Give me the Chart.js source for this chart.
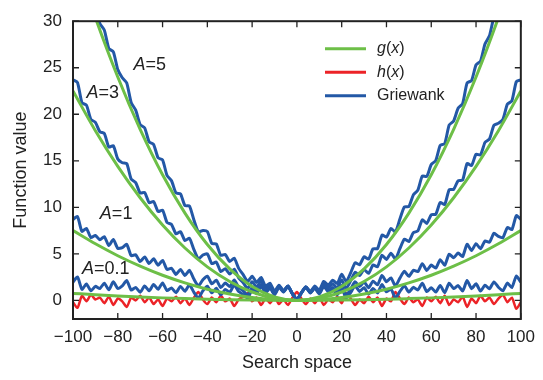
<!DOCTYPE html>
<html>
<head>
<meta charset="utf-8">
<script src="https://cdn.jsdelivr.net/npm/chart.js@4.4.0/dist/chart.umd.min.js"></script>
<style>
html, body { margin: 0; padding: 0; background: #fff; }
</style>
</head>
<body>
<canvas id="chart" width="543" height="380"></canvas>
<script>
var FONT = '"Liberation Sans", Arial, sans-serif';

var xTicks = [-100, -80, -60, -40, -20, 0, 20, 40, 60, 80, 100];
var yTicks = [0, 5, 10, 15, 20, 25, 30];

// smooth g(x) curves, read every 10 units
var xCoarse = [-100,-90,-80,-70,-60,-50,-40,-30,-20,-10,0,10,20,30,40,50,60,70,80,90,100];
var gA01 = [0.75,0.61,0.48,0.37,0.27,0.19,0.12,0.07,0.03,0.01,0,0.01,0.03,0.07,0.12,0.19,0.27,0.37,0.48,0.61,0.75];
var gA1  = [7.5,6.08,4.8,3.68,2.7,1.88,1.2,0.68,0.3,0.08,0,0.08,0.3,0.68,1.2,1.88,2.7,3.68,4.8,6.08,7.5];
var gA3  = [22.5,18.23,14.4,11.03,8.1,5.63,3.6,2.03,0.9,0.23,0,0.23,0.9,2.03,3.6,5.63,8.1,11.03,14.4,18.23,22.5];
var gA5  = [37.5,30.38,24,18.38,13.5,9.38,6,3.38,1.5,0.38,0,0.38,1.5,3.38,6,9.38,13.5,18.38,24,30.38,37.5];

// wiggly curves, read every 2 units
var xFine = [-100,-98,-96,-94,-92,-90,-88,-86,-84,-82,-80,-78,-76,-74,-72,-70,-68,-66,-64,-62,
  -60,-58,-56,-54,-52,-50,-48,-46,-44,-42,-40,-38,-36,-34,-32,-30,-28,-26,-24,-22,
  -20,-18,-16,-14,-12,-10,-8,-6,-4,-2,0,2,4,6,8,10,12,14,16,18,20,22,24,26,28,30,32,34,36,38,40,
  42,44,46,48,50,52,54,56,58,60,62,64,66,68,70,72,74,76,78,80,82,84,86,88,90,92,94,96,98,100];

var hx = [-0.2,-0.8,0.5,-0.1,0.6,0.1,0.3,-0.3,0.4,-0.5,
  0.2,-0.1,-0.7,0.3,0.0,0.5,-0.2,0.3,-0.4,0.1,
  -0.6,0.2,-0.1,0.4,-0.3,0.2,-0.5,0.3,0.9,0.1,
  -0.4,0.3,-0.2,0.5,-0.1,0.2,-0.6,0.1,0.4,0.8,
  -0.1,0.3,-0.5,0.2,-0.3,0.4,-0.4,0.1,-0.5,0.3,
  0.9,
  0.2,-0.4,0.2,-0.3,0.3,-0.5,0.1,-0.2,0.4,-0.3,
  0.8,0.2,-0.5,0.1,-0.3,0.4,-0.2,0.3,-0.6,0.2,
  -0.1,0.9,0.2,-0.4,0.3,-0.2,0.1,-0.6,0.3,-0.1,
  0.4,-0.3,0.5,-0.5,0.1,-0.2,0.4,-0.7,0.2,-0.3,
  0.5,-0.1,0.3,-0.4,0.2,0.6,-0.2,0.3,-0.9,-0.2];

var grA01 = [1.95,2.52,1.19,1.76,1.03,1.51,1.28,1.85,1.13,2.0,
  1.28,1.56,2.13,1.11,1.39,0.87,1.55,1.03,1.71,1.19,
  1.87,1.05,1.34,0.82,1.5,0.99,1.67,0.86,0.25,1.03,
  1.52,0.81,1.3,0.59,1.18,0.87,1.66,0.95,0.64,0.24,
  1.13,0.72,1.52,0.81,1.31,0.61,1.4,0.9,1.5,0.7,
  0.1,
  0.8,1.4,0.8,1.3,0.71,1.51,0.91,1.22,0.62,1.33,
  0.24,0.84,1.55,0.96,1.37,0.68,1.29,0.8,1.71,0.92,
  1.23,0.25,0.96,1.57,0.89,1.4,1.12,1.84,0.95,1.37,
  0.89,1.61,0.83,1.85,1.27,1.59,1.01,2.13,1.26,1.78,
  1.0,1.63,1.25,1.98,1.41,1.03,1.86,1.39,2.62,1.95];

var grA1 = [8.7,9.0,7.41,7.73,6.75,6.98,6.51,6.85,5.89,6.54,
  5.6,5.66,6.03,4.81,4.89,4.18,4.67,3.97,4.47,3.78,
  4.3,3.32,3.45,2.79,3.33,2.68,3.23,2.29,1.55,2.22,
  2.6,1.78,2.17,1.37,1.87,1.48,2.19,1.41,1.03,0.56,
  1.4,0.94,1.69,0.95,1.41,0.68,1.45,0.93,1.51,0.7,
  0.1,
  0.8,1.41,0.83,1.35,0.78,1.61,1.05,1.39,0.84,1.6,
  0.56,1.23,2.01,1.49,1.98,1.37,2.07,1.67,2.68,2.0,
  2.42,1.55,2.39,3.13,2.58,3.23,3.09,3.95,3.22,3.8,
  3.48,4.37,3.77,4.97,4.58,5.09,4.71,6.03,5.36,6.1,
  5.54,6.39,6.25,7.21,6.88,6.75,7.83,7.61,9.1,8.7];

var grA3 = [23.7,23.41,21.24,20.98,19.44,19.13,18.12,17.94,16.48,16.63,
  15.2,14.79,14.7,13.02,12.66,11.53,11.6,10.5,10.62,9.55,
  9.7,8.37,8.16,7.16,7.38,6.43,6.68,5.46,4.46,4.87,
  5.0,3.95,4.12,3.1,3.4,2.83,3.36,2.42,1.9,1.29,
  2.0,1.43,2.08,1.24,1.62,0.83,1.54,0.98,1.54,0.71,
  0.1,
  0.81,1.44,0.88,1.44,0.93,1.82,1.34,1.78,1.33,2.2,
  1.29,2.1,3.02,2.66,3.33,2.9,3.8,3.62,4.85,4.4,
  5.07,4.46,5.56,6.58,6.33,7.28,7.46,8.66,8.27,9.2,
  9.25,10.52,10.3,11.9,11.93,12.86,12.92,14.7,14.49,15.7,
  15.63,16.98,17.34,18.82,19.03,19.44,21.08,21.44,23.51,23.7];

var grA5 = [38.7,37.82,35.06,34.24,32.14,31.28,29.74,29.04,27.06,26.72,
  24.8,23.92,23.36,21.24,20.44,18.88,18.54,17.04,16.76,15.32,
  15.1,13.42,12.86,11.54,11.44,10.18,10.14,8.64,7.36,7.52,
  7.4,6.12,6.06,4.84,4.94,4.18,4.54,3.44,2.76,2.02,
  2.6,1.92,2.46,1.54,1.84,0.98,1.64,1.04,1.56,0.72,
  0.1,
  0.82,1.46,0.94,1.54,1.08,2.04,1.64,2.16,1.82,2.8,
  2.02,2.96,4.04,3.84,4.68,4.44,5.54,5.56,7.02,6.8,
  7.72,7.36,8.74,10.04,10.08,11.34,11.84,13.36,13.32,14.6,
  15.02,16.66,16.84,18.84,19.28,20.64,21.14,23.36,23.62,25.3,
  25.72,27.56,28.44,30.44,31.18,32.14,34.34,35.26,37.92,38.7];

// curve labels: [value of A, x, y]
var curveLabels = [['5', -73, 25.3], ['3', -94, 22.3], ['1', -88, 9.3], ['0.1', -96, 3.4]];

var GREEN = '#6dbf47';
var RED = '#ec2327';
var BLUE = '#2358a6';

function pts(xs, ys) {
  return xs.map(function (x, i) { return { x: x, y: ys[i] }; });
}

function greenSet(ys) {
  return { data: pts(xCoarse, ys), borderColor: GREEN, borderWidth: 3, pointRadius: 0,
    cubicInterpolationMode: 'monotone' };
}
function blueSet(ys) {
  return { data: pts(xFine, ys), borderColor: BLUE, borderWidth: 3, pointRadius: 0, tension: 0.2 };
}

function richText(ctx, parts, x, y, size) {
  parts.forEach(function (p) {
    ctx.font = (p[1] ? 'italic ' : '') + size + 'px ' + FONT;
    ctx.fillText(p[0], x, y);
    x += ctx.measureText(p[0]).width;
  });
}

var decorations = {
  id: 'decorations',
  afterDatasetsDraw: function (chart) {
    var ctx = chart.ctx, a = chart.chartArea;
    var xs = chart.scales.x, ys = chart.scales.y;
    ctx.save();
    ctx.strokeStyle = '#222';
    ctx.lineWidth = 1.3;
    ctx.beginPath();
    xTicks.forEach(function (v) {
      var px = xs.getPixelForValue(v);
      ctx.moveTo(px, a.bottom); ctx.lineTo(px, a.bottom - 6);
      ctx.moveTo(px, a.top); ctx.lineTo(px, a.top + 6);
    });
    yTicks.forEach(function (v) {
      var py = ys.getPixelForValue(v);
      ctx.moveTo(a.left, py); ctx.lineTo(a.left + 6, py);
      ctx.moveTo(a.right, py); ctx.lineTo(a.right - 6, py);
    });
    ctx.stroke();
    ctx.lineWidth = 2;
    ctx.strokeRect(a.left, a.top, a.right - a.left, a.bottom - a.top);

    // curve labels
    ctx.fillStyle = '#222';
    ctx.textBaseline = 'middle';
    ctx.textAlign = 'left';
    curveLabels.forEach(function (c) {
      richText(ctx, [['A', true], ['=' + c[0], false]],
        xs.getPixelForValue(c[1]), ys.getPixelForValue(c[2]), 18);
    });

    // legend
    var items = [
      [GREEN, [['g', true], ['(', false], ['x', true], [')', false]]],
      [RED, [['h', true], ['(', false], ['x', true], [')', false]]],
      [BLUE, [['Griewank', false]]]
    ];
    var lx = a.left + 252, ly = a.top + 27.5;
    items.forEach(function (it, i) {
      var y = ly + i * 23.5;
      ctx.strokeStyle = it[0];
      ctx.lineWidth = 3;
      ctx.beginPath();
      ctx.moveTo(lx, y); ctx.lineTo(lx + 41, y);
      ctx.stroke();
      ctx.fillStyle = '#222';
      richText(ctx, it[1], lx + 52, y, 16);
    });
    ctx.restore();
  }
};

new Chart(document.getElementById('chart'), {
  type: 'line',
  data: {
    datasets: [
      greenSet(gA5), greenSet(gA3), greenSet(gA1), greenSet(gA01),
      blueSet(grA5), blueSet(grA3), blueSet(grA1), blueSet(grA01),
      { data: pts(xFine, hx), borderColor: RED, borderWidth: 2.5, pointRadius: 0, tension: 0.2 }
    ]
  },
  options: {
    responsive: false,
    animation: false,
    layout: { padding: { left: 0, right: 16, top: 17, bottom: 0 } },
    plugins: { legend: { display: false }, tooltip: { enabled: false } },
    scales: {
      x: {
        type: 'linear', min: -100, max: 100,
        grid: { display: false, drawTicks: false },
        border: { display: false },
        afterBuildTicks: function (s) { s.ticks = xTicks.map(function (v) { return { value: v }; }); },
        afterFit: function (s) { s.height = 61; },
        ticks: {
          color: '#222', padding: 8, maxRotation: 0, autoSkip: false,
          font: { family: FONT, size: 17 },
          callback: function (v) { return String(v).replace('-', '\u2212'); }
        },
        title: { display: true, text: 'Search space', color: '#222',
          font: { family: FONT, size: 18 }, padding: { top: 0, bottom: 6 } }
      },
      y: {
        type: 'linear', min: -2, max: 30,
        grid: { display: false, drawTicks: false },
        border: { display: false },
        afterBuildTicks: function (s) { s.ticks = yTicks.map(function (v) { return { value: v }; }); },
        afterFit: function (s) { s.width = 73; },
        ticks: { color: '#222', padding: 11, font: { family: FONT, size: 17 } },
        title: { display: true, text: 'Function value', color: '#222',
          font: { family: FONT, size: 18 }, padding: { top: 10, bottom: 0 } }
      }
    }
  },
  plugins: [decorations]
});
</script>
</body>
</html>
